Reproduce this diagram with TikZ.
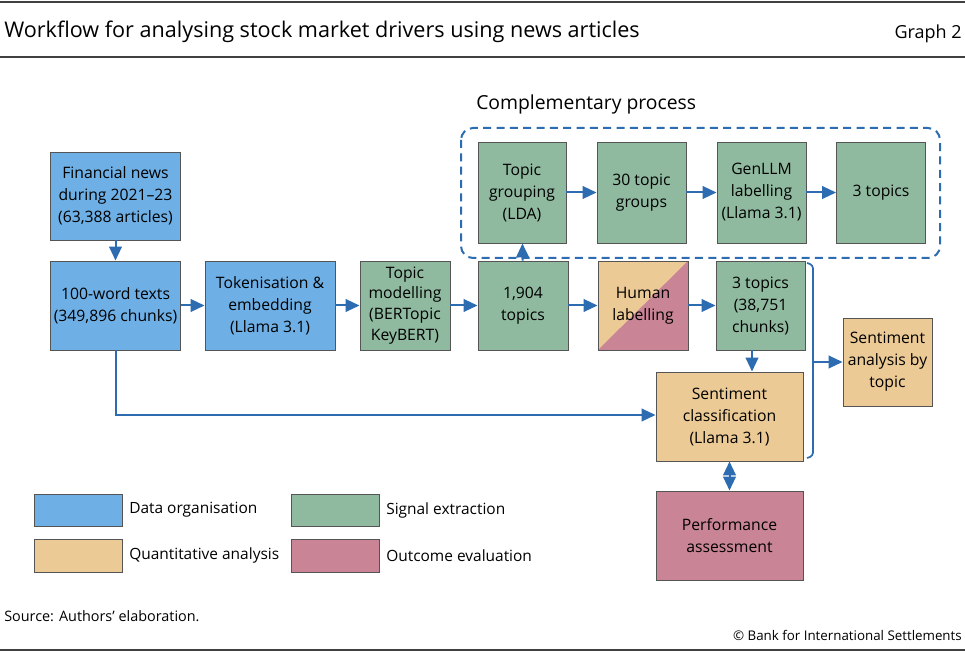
\documentclass[tikz,border=0pt]{standalone}
\usepackage{fontspec}
\setmainfont{Open Sans}
\usetikzlibrary{arrows.meta}
\definecolor{cblue}{RGB}{110,176,230}
\definecolor{cgreen}{RGB}{143,186,160}
\definecolor{ctan}{RGB}{236,202,150}
\definecolor{cpink}{RGB}{201,132,150}
\definecolor{cline}{RGB}{46,108,178}
\definecolor{cborder}{RGB}{85,85,85}
\definecolor{crule}{RGB}{64,64,64}
\begin{document}
\begin{tikzpicture}[x=0.75pt,y=-0.75pt,
  boxtext/.style={font=\fontsize{11.8}{16.5}\selectfont, align=center},
  box/.style 2 args={draw=cborder, line width=0.7pt, inner sep=0pt, boxtext,
     minimum width=#1*0.75pt, minimum height=#2*0.75pt},
  arr/.style={draw=cline, line width=1.5pt, -{Triangle[length=10.5pt,width=9.5pt]}},
  darr/.style={draw=cline, line width=1.5pt, {Triangle[length=10.5pt,width=9.5pt]}-{Triangle[length=10.5pt,width=9.5pt]}},
  legtext/.style={font=\fontsize{11.6}{14}\selectfont, anchor=west, inner sep=0pt},
  rule/.style={draw=crule, line width=1.5pt}]
\useasboundingbox (0,0) rectangle (965,652);
\fill[white] (0,0) rectangle (965,652);
% rules and header
\draw[rule] (0,2) -- (965,2);
\draw[rule] (0,57) -- (965,57);
\draw[rule] (0,650) -- (965,650);
\node[anchor=west, inner sep=0pt, font=\fontsize{16.2}{19}\selectfont] (title) at (4,32) {Workflow for analysing stock market drivers using news articles};
\node[anchor=east, inner sep=0pt, font=\fontsize{13.5}{16}\selectfont] (graph) at (962,34) {Graph 2};
% complementary process
\node[anchor=west, inner sep=0pt, font=\fontsize{14.5}{17}\selectfont] (comp) at (476,104) {Complementary process};
\draw[cline, line width=1.5pt, dash pattern=on 6pt off 4pt, rounded corners=9pt] (461,128) rectangle (940,258);
% main boxes
\node[box={130}{88}, fill=cblue] (fin) at (115.5,196) {Financial news\\during 2021--23\\(63,388 articles)};
\node[box={130}{89}, fill=cblue] (txt) at (115.5,305.5) {100-word texts\\(349,896 chunks)};
\node[box={130}{89}, fill=cblue] (tok) at (270,305.5) {Tokenisation \&\\embedding\\(Llama 3.1)};
\node[box={90}{89}, fill=cgreen, font=\fontsize{11.8}{15.6}\selectfont] (tm) at (405,305.5) {Topic\\modelling\\(BERTopic\\KeyBERT)};
\node[box={90}{89}, fill=cgreen] (t1904) at (523,305.5) {1,904\\topics};
\node[box={90}{89}, path picture={
    \fill[ctan] (path picture bounding box.south west) rectangle (path picture bounding box.north east);
    \fill[cpink] (path picture bounding box.south west) -- (path picture bounding box.north east) -- (path picture bounding box.south east) -- cycle;}] (hum) at (643,305.5) {Human\\labelling};
\node[box={89}{89}, fill=cgreen] (t3) at (760.5,305.5) {3 topics\\(38,751\\chunks)};
\node[box={147}{89}, fill=ctan] (sc) at (729.5,416.5) {Sentiment\\classification\\(Llama 3.1)};
\node[box={147}{89}, fill=cpink] (pa) at (729.5,535.5) {Performance\\assessment};
\node[box={89}{88}, fill=ctan] (sat) at (887.5,362) {Sentiment\\analysis by\\topic};
\node[box={88}{101}, fill=cgreen] (tg) at (522,192.5) {Topic\\grouping\\(LDA)};
\node[box={89}{101}, fill=cgreen] (tgr) at (641.5,192.5) {30 topic\\groups};
\node[box={89}{101}, fill=cgreen] (gen) at (761.5,192.5) {GenLLM\\labelling\\(Llama 3.1)};
\node[box={89}{101}, fill=cgreen] (t3b) at (881,192.5) {3 topics};
% connectors
\draw[arr] (fin) -- (txt);
\draw[arr] (txt) -- (tok);
\draw[arr] (tok) -- (tm);
\draw[arr] (tm) -- (t1904);
\draw[arr] (t1904) -- (hum);
\draw[arr] (hum) -- (t3);
\draw[arr] (t1904) -- (tg);
\draw[arr] (tg) -- (tgr);
\draw[arr] (tgr) -- (gen);
\draw[arr] (gen) -- (t3b);
\coordinate (t3out) at (752,350);
\draw[arr] (t3out) -- (t3out |- sc.north);
\coordinate (bend) at (116,415);
\draw[arr] (txt.south -| bend) -- (bend) -- (bend -| sc.west);
\draw[darr] (sc) -- (pa);
\draw[cline, line width=1.3pt, rounded corners=2.5pt] (807,263) -- (813,265) -- (813,456) -- (807,458);
\coordinate (br) at (813,362);
\draw[arr] (br) -- (sat);
% legend
\node[box={88}{32}, fill=cblue] (l1) at (78,510) {};
\node[legtext] (l1t) at (129,510) {Data organisation};
\node[box={88}{32}, fill=cgreen] (l2) at (335,510) {};
\node[legtext] (l2t) at (386,510) {Signal extraction};
\node[box={88}{33}, fill=ctan] (l3) at (78,555.5) {};
\node[legtext] (l3t) at (129,555.5) {Quantitative analysis};
\node[box={88}{33}, fill=cpink] (l4) at (335,555.5) {};
\node[legtext] (l4t) at (386,555.5) {Outcome evaluation};
% footer
\node[anchor=west, inner sep=0pt, font=\fontsize{10.8}{13}\selectfont] (src) at (4,616) {Source: Authors’ elaboration.};
\node[anchor=east, inner sep=0pt, font=\fontsize{10}{12}\selectfont] (bis) at (962,635) {© Bank for International Settlements};
\end{tikzpicture}
\end{document}
